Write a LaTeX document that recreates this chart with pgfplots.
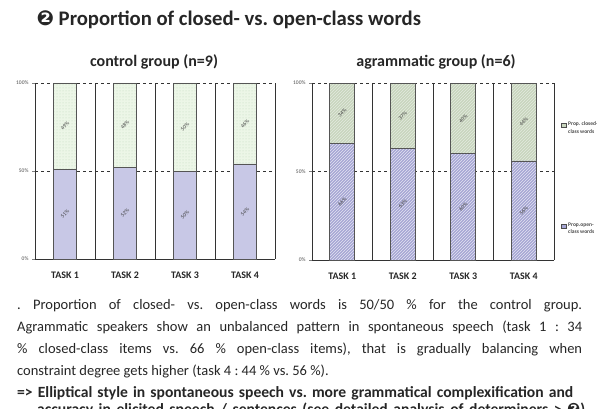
\documentclass[border=0pt]{standalone}
\usepackage{pgfplots}
\pgfplotsset{compat=1.18}
\usepackage{fontspec}
\setmainfont{Carlito}
\newfontfamily\dejavu{DejaVu Sans}
\usetikzlibrary{patterns}
\frenchspacing

\definecolor{openC}{RGB}{200,200,230}
\definecolor{closedC}{RGB}{236,246,231}
\definecolor{openA}{RGB}{166,166,212}
\definecolor{closedA}{RGB}{200,214,190}
\definecolor{edge}{RGB}{85,85,85}

\pgfplotsset{
  panel/.style={
    scale only axis, anchor=south west,
    xmin=0.5, xmax=4.5, ymin=0, ymax=100,
    axis x line*=bottom, axis y line*=left,
    xtick={1,2,3,4}, xticklabels={TASK 1,TASK 2,TASK 3,TASK 4},
    x tick label style={font=\bfseries\fontsize{10}{11}\selectfont, text=black!85, yshift=-6pt},
    xtick style={draw=none},
    ytick={0,50,100}, yticklabels={0\%,50\%,100\%},
    y tick label style={font=\fontsize{5.5}{6}\selectfont, text=black!70},
    major tick length=3pt, minor tick length=0pt, tick align=outside,
    ymajorgrids, major grid style={dashed, black!80, line width=0.5pt},
    minor xtick={1.5,2.5,3.5,4.5}, xminorgrids,
    minor grid style={solid, black!80, line width=0.7pt},
    axis line style={black!80, line width=0.7pt},
    ybar stacked,
  },
  labs/.style={
    scale only axis, anchor=south west,
    xmin=0.5, xmax=4.5, ymin=0, ymax=100, hide axis,
  },
  vlab/.style={draw=none, mark=none, nodes near coords, point meta=explicit symbolic,
    every node near coord/.style={anchor=center, rotate=45,
      font=\fontsize{5.5}{5.5}\selectfont, text=black!75}},
}

\begin{document}
\begin{tikzpicture}
\useasboundingbox (0,0) rectangle (597pt,-409pt);
\clip (0,0) rectangle (597pt,-409pt);

% title
\node[anchor=base west, font=\bfseries\fontsize{20.7}{22}\selectfont, text=black!85]
  at (33pt,-26pt) {{\dejavu ❷} Proportion of closed- vs. open-class words};

% subtitles
\node[anchor=base, font=\bfseries\fontsize{16}{18}\selectfont, text=black!85]
  at (154pt,-67pt) {control group (n=9)};
\node[anchor=base, font=\bfseries\fontsize{16}{18}\selectfont, text=black!85]
  at (436pt,-67pt) {agrammatic group (n=6)};

% control panel
\begin{axis}[panel, at={(35pt,-259pt)}, width=240pt, height=176pt, bar width=23pt]
\addplot[fill=openC, draw=edge, line width=0.7pt] coordinates {(1,51) (2,52) (3,50) (4,54)};
\addplot[fill=closedC, draw=edge, line width=0.7pt,
  postaction={pattern=dots, pattern color=green!40!black!25}] coordinates {(1,49) (2,48) (3,50) (4,46)};
\end{axis}
\begin{axis}[labs, at={(35pt,-259pt)}, width=240pt, height=176pt]
\addplot[vlab] table[meta=lab] {
x y lab
1 25.5 51\%
2 26 52\%
3 25 50\%
4 27 54\%
1 75.5 49\%
2 76 48\%
3 75 50\%
4 77 46\%
};
\end{axis}

% agrammatic panel
\begin{axis}[panel, at={(312pt,-260pt)}, width=242pt, height=177pt, bar width=25pt]
\addplot[fill=openA, draw=edge, line width=0.7pt,
  postaction={pattern=north east lines, pattern color=white!70!openA}] coordinates {(1,66) (2,63) (3,60) (4,56)};
\addplot[fill=closedA, draw=edge, line width=0.7pt,
  postaction={pattern=north east lines, pattern color=white!50!closedA}] coordinates {(1,34) (2,37) (3,40) (4,44)};
\end{axis}
\begin{axis}[labs, at={(312pt,-260pt)}, width=242pt, height=177pt]
\addplot[vlab] table[meta=lab] {
x y lab
1 33 66\%
2 31.5 63\%
3 30 60\%
4 28 56\%
1 83 34\%
2 81.5 37\%
3 80 40\%
4 78 44\%
};
\end{axis}

% legend
\node[draw=black!70, fill=closedA, minimum size=4.5pt, inner sep=0pt] at (563.5pt,-125pt) {};
\node[anchor=north west, inner sep=0pt, align=left, font=\bfseries\fontsize{5.5}{7.5}\selectfont, text=black!70]
  at (568pt,-121.5pt) {Prop. closed-\\class words};
\node[draw=black!70, fill=openA, minimum size=4.5pt, inner sep=0pt] at (563.5pt,-226pt) {};
\node[anchor=north west, inner sep=0pt, align=left, font=\bfseries\fontsize{5.5}{7.5}\selectfont, text=black!70]
  at (568pt,-222.5pt) {Prop.open-\\class words};

% body text
\begin{scope}[every node/.style={anchor=base west, inner sep=0pt, font=\fontsize{14.5}{17}\selectfont, text=black!85}]
\node at (17pt,-309pt) {\makebox[565pt][s]{. Proportion of closed- vs. open-class words is 50/50 \% for the control group.}};
\node at (17pt,-331pt) {\makebox[565pt][s]{Agrammatic speakers show an unbalanced pattern in spontaneous speech (task 1 : 34}};
\node at (17pt,-353pt) {\makebox[565pt][s]{\% closed-class items vs. 66 \% open-class items), that is gradually balancing when}};
\node at (17pt,-375pt) {constraint degree gets higher (task 4 : 44 \% vs. 56 \%).};
\node[font=\bfseries\fontsize{15.6}{17}\selectfont] at (17pt,-397pt) {\makebox[556pt][s]{=> Elliptical style in spontaneous speech vs. more grammatical complexification and}};
\node[font=\bfseries\fontsize{15.6}{17}\selectfont] at (37pt,-414pt) {\makebox[548pt][s]{accuracy in elicited speech / sentences (see detailed analysis of determiners > {\dejavu ❷})}};
\end{scope}
\end{tikzpicture}
\end{document}
